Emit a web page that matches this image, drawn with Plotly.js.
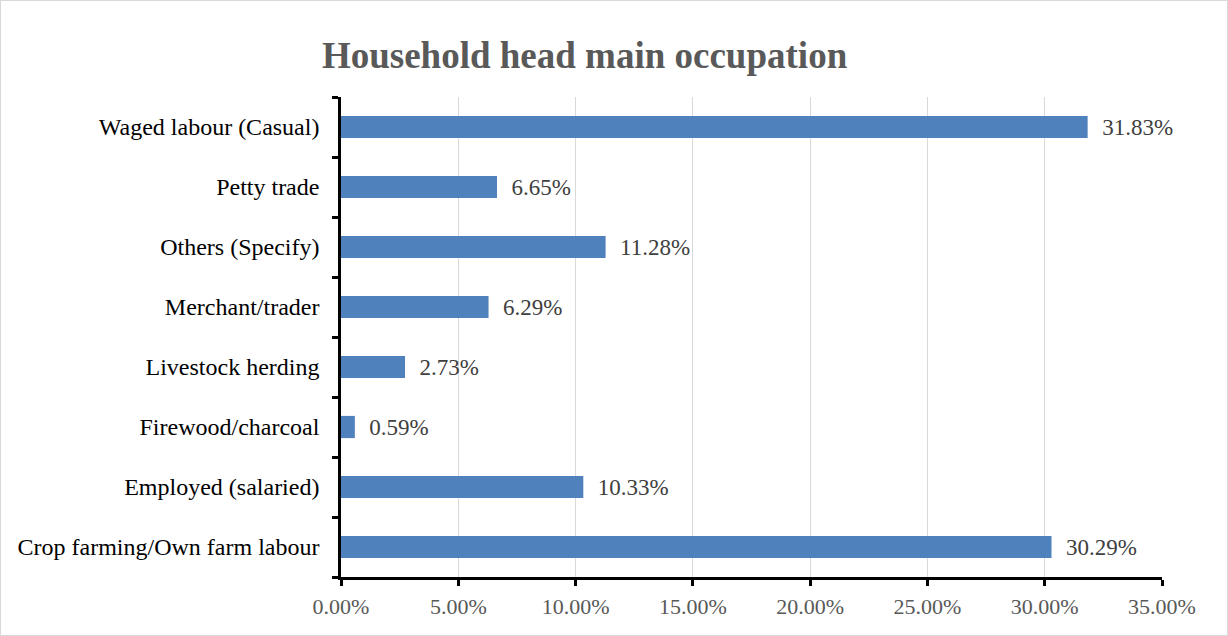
<!DOCTYPE html>
<html>
<head>
<meta charset="utf-8">
<script src="https://cdn.plot.ly/plotly-3.0.1.min.js"></script>
<style>
html,body{margin:0;padding:0;background:#fff;}
#chart{width:1226px;height:634px;border:1px solid #d9d9d9;}
</style>
</head>
<body>
<div id="chart"></div>
<script>
const categories = [
  "Crop farming/Own farm labour",
  "Employed (salaried)",
  "Firewood/charcoal",
  "Livestock herding",
  "Merchant/trader",
  "Others (Specify)",
  "Petty trade",
  "Waged labour (Casual)"
];
const percentages = [30.29, 10.33, 0.59, 2.73, 6.29, 11.28, 6.65, 31.83];
const xTickValues = [0, 5, 10, 15, 20, 25, 30, 35];

const serif = "Liberation Serif, Times New Roman, serif";

const trace = {
  type: "bar",
  orientation: "h",
  y: categories,
  x: percentages,
  marker: {color: "#4f81bd"},
  text: percentages.map(v => "\u00a0\u00a0" + v.toFixed(2) + "%"),
  textposition: "outside",
  constraintext: "none",
  cliponaxis: false,
  textfont: {family: serif, size: 23, color: "#404040"},
  hoverinfo: "x+y"
};

const layout = {
  width: 1226,
  height: 634,
  margin: {l: 340, r: 65, t: 96, b: 58},
  paper_bgcolor: "#ffffff",
  plot_bgcolor: "#ffffff",
  bargap: 0.63,
  showlegend: false,
  title: {
    text: "<b>Household head main occupation</b>",
    font: {family: serif, size: 37, color: "#595959"},
    x: 0.476, xref: "container", xanchor: "center",
    y: 0.915, yref: "container", yanchor: "middle"
  },
  xaxis: {
    range: [0, 35],
    tickvals: xTickValues,
    ticktext: xTickValues.map(v => v.toFixed(2) + "%"),
    showgrid: true,
    gridcolor: "#d9d9d9",
    gridwidth: 1.3,
    zeroline: false,
    showline: true,
    linecolor: "#000000",
    linewidth: 2.5,
    ticks: "outside",
    ticklen: 6,
    tickwidth: 2.5,
    tickcolor: "#000000",
    ticklabelstandoff: 2,
    tickfont: {family: serif, size: 22, color: "#595959"},
    fixedrange: true
  },
  yaxis: {
    showgrid: false,
    zeroline: false,
    showline: true,
    linecolor: "#000000",
    linewidth: 2.5,
    ticks: "outside",
    tickson: "boundaries",
    ticklen: 6,
    tickwidth: 2.5,
    tickcolor: "#000000",
    ticklabelstandoff: 14,
    tickfont: {family: serif, size: 24, color: "#000000"},
    fixedrange: true
  }
};

Plotly.newPlot("chart", [trace], layout, {displayModeBar: false});
</script>
</body>
</html>
